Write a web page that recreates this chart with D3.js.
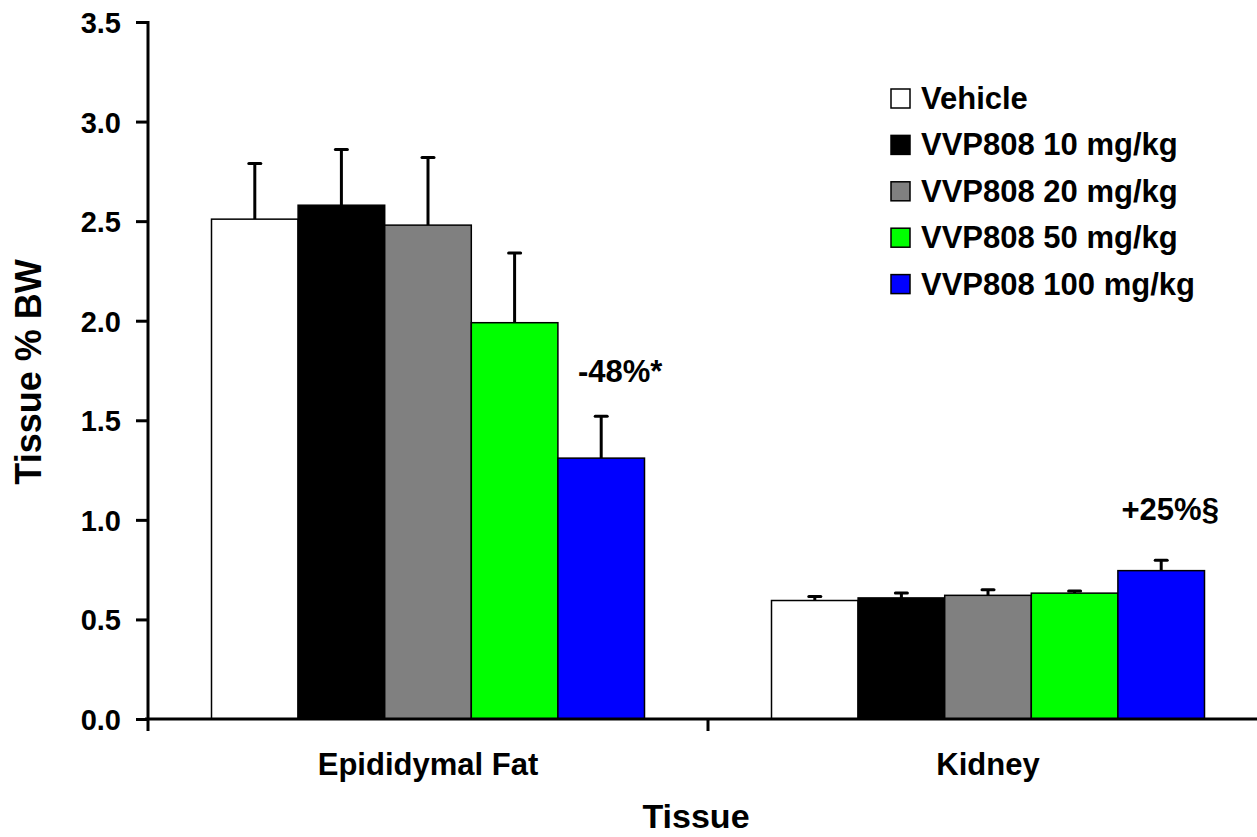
<!DOCTYPE html>
<html><head><meta charset="utf-8">
<script src="https://cdn.jsdelivr.net/npm/d3@7"></script>
<style>body{margin:0;background:#fff}svg{display:block}text{font-family:"Liberation Sans",Arial,sans-serif;font-weight:bold;fill:#000}</style>
</head><body>
<script>
const categories = ["Epididymal Fat", "Kidney"];
const groups = ["Vehicle", "VVP808 10 mg/kg", "VVP808 20 mg/kg", "VVP808 50 mg/kg", "VVP808 100 mg/kg"];
const colors = ["#ffffff", "#000000", "#808080", "#00ff00", "#0000ff"];
const fatValues = [2.51, 2.58, 2.48, 1.99, 1.31];
const fatErrors = [0.28, 0.28, 0.34, 0.35, 0.21];
const kidneyValues = [0.595, 0.608, 0.621, 0.632, 0.745];
const kidneyErrors = [0.02, 0.025, 0.028, 0.011, 0.052];
const annotationTexts = ["-48%*", "+25%§"];
const annotationLevels = [1.69, 1.0];
const yTicks = [0, 0.5, 1.0, 1.5, 2.0, 2.5, 3.0, 3.5];

const W = 1257, H = 837;
const svg = d3.select("body").append("svg").attr("width", W).attr("height", H);
const x0 = 148, y0 = 719, yTop = 22;
const x = d3.scaleBand().domain(categories).range([x0, x0 + 1120]).paddingInner(0).paddingOuter(0);
const y = d3.scaleLinear().domain([0, 3.5]).range([y0, yTop]);
const inner = d3.scaleBand().domain(groups).range([0, 433]);
const offset = (x.bandwidth() - 433) / 2;

const data = [];
categories.forEach((c, ci) => {
  const vals = ci === 0 ? fatValues : kidneyValues;
  const errs = ci === 0 ? fatErrors : kidneyErrors;
  groups.forEach((g, gi) => data.push({c, g, v: vals[gi], e: errs[gi], color: colors[gi]}));
});

// error bars
const eb = svg.append("g");
data.forEach(d => {
  const cx = x(d.c) + offset + inner(d.g) + inner.bandwidth() / 2;
  eb.append("line").attr("x1", cx).attr("x2", cx).attr("y1", y(d.v)).attr("y2", y(d.v + d.e))
    .attr("stroke", "#000").attr("stroke-width", 3);
  eb.append("line").attr("x1", cx - 6).attr("x2", cx + 6).attr("y1", y(d.v + d.e)).attr("y2", y(d.v + d.e))
    .attr("stroke", "#000").attr("stroke-width", 3).attr("stroke-linecap", "round");
});

svg.append("g").selectAll("rect").data(data).join("rect")
  .attr("x", d => x(d.c) + offset + inner(d.g))
  .attr("y", d => y(d.v))
  .attr("width", inner.bandwidth())
  .attr("height", d => y0 - y(d.v))
  .attr("fill", d => d.color)
  .attr("stroke", "#000").attr("stroke-width", 1.5);

// Y axis
const yAxis = svg.append("g").attr("transform", `translate(${x0},0)`)
  .call(d3.axisLeft(y).tickValues(yTicks).tickFormat(d3.format(".1f")).tickSize(12).tickPadding(15));
yAxis.select(".domain").attr("stroke-width", 3).attr("d", `M0,${yTop - 1}V${y0}`);
yAxis.selectAll(".tick line").attr("stroke-width", 3);
yAxis.selectAll("text").attr("dy", "0.36em").style("font-size", "29px").style("font-family", "'Liberation Sans',Arial,sans-serif").style("font-weight", "bold");

// X axis
const xAxis = svg.append("g").attr("transform", `translate(0,${y0})`);
xAxis.append("line").attr("x1", x0 - 3).attr("x2", W).attr("y1", 0).attr("y2", 0).attr("stroke", "#000").attr("stroke-width", 3);
[x0, x0 + x.bandwidth(), x0 + 2 * x.bandwidth()].forEach(t => {
  xAxis.append("line").attr("x1", t).attr("x2", t).attr("y1", 0).attr("y2", 12).attr("stroke", "#000").attr("stroke-width", 3);
});
categories.forEach(c => {
  xAxis.append("text").attr("x", x(c) + x.bandwidth() / 2).attr("y", 56).attr("text-anchor", "middle")
    .style("font-size", "31px").text(c);
});

// Axis titles
svg.append("text").attr("transform", "translate(41,372) rotate(-90)").attr("text-anchor", "middle")
  .style("font-size", "36px").text("Tissue % BW");
svg.append("text").attr("x", 696).attr("y", 828).attr("text-anchor", "middle").style("font-size", "34px").text("Tissue");

// Annotations (above the 100 mg/kg bars)
const annShift = [19, 9];
categories.forEach((c, i) => {
  svg.append("text").attr("x", x(c) + offset + inner(groups[4]) + inner.bandwidth() / 2 + annShift[i])
    .attr("y", y(annotationLevels[i])).attr("text-anchor", "middle").style("font-size", "31px").text(annotationTexts[i]);
});

// Legend
const lg = svg.append("g").attr("transform", "translate(891,98)");
groups.forEach((g, i) => {
  const row = lg.append("g").attr("transform", `translate(0,${i * 46.4})`);
  row.append("rect").attr("x", 0).attr("y", -9).attr("width", 19).attr("height", 19)
    .attr("fill", colors[i]).attr("stroke", "#000").attr("stroke-width", 1.5);
  row.append("text").attr("x", 30).attr("y", 11).style("font-size", "31px").text(g);
});
</script>
</body></html>
